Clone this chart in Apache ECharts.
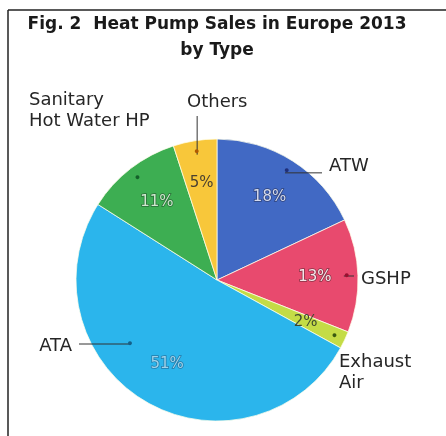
<!DOCTYPE html>
<html>
<head>
<meta charset="utf-8">
<script src="https://cdn.jsdelivr.net/npm/echarts@6/dist/echarts.min.js"></script>
<style>html,body{margin:0;padding:0;background:#fff}#c{width:446px;height:436px}</style>
</head>
<body>
<div id="c"></div>
<script>
// ---- data ----
var categories = ['ATW', 'GSHP', 'Exhaust Air', 'ATA', 'Sanitary Hot Water HP', 'Others'];
var labelTexts = ['ATW', 'GSHP', 'Exhaust\nAir', 'ATA', 'Sanitary\nHot Water HP', 'Others'];
var values = [18, 13, 2, 51, 11, 5];
var titleLines = ['Fig. 2  Heat Pump Sales in Europe 2013', 'by Type'];

// ---- styles ----
var colors = ['#4169c4', '#e84a6e', '#c4dc46', '#2bb5ec', '#3dae52', '#f8c73a'];
var dotColors = ['#1f2f7a', '#9a1030', '#3a5a10', '#14608a', '#14602a', '#b05a00'];
var pctColors = ['#d4dbee', '#f6e6ea', '#3e4a30', '#9fd3ea', '#cfe8cf', '#4a4030'];
var pctBorders = ['rgba(40,50,90,0.7)', 'rgba(90,40,50,0.7)', 'rgba(0,0,0,0)', 'rgba(30,80,120,0.6)', 'rgba(30,80,40,0.7)', 'rgba(0,0,0,0)'];

var CX = 217, CY = 280, R = 141;
var place = {
  'ATW': {x: 329, y: 166, align: 'left', line: 'h'},
  'GSHP': {x: 361, y: 279, align: 'left', line: 'h'},
  'Exhaust Air': {x: 339, y: 373, align: 'left', line: 'none'},
  'ATA': {x: 72, y: 346, align: 'right', line: 'ata'},
  'Sanitary Hot Water HP': {x: 29, y: 111, align: 'left', line: 'none'},
  'Others': {x: 187, y: 102, align: 'left', line: 'v'}
};
var ataDot = [130, 344];

var chart = echarts.init(document.getElementById('c'), null, {renderer: 'canvas'});

var mainData = categories.map(function (n, i) {
  return {name: n, value: values[i], itemStyle: {color: colors[i]}};
});
var pctData = categories.map(function (n, i) {
  return {name: n, value: values[i], label: {color: pctColors[i], textBorderColor: pctBorders[i]}};
});
var nameData = categories.map(function (n, i) {
  return {name: n, value: values[i], label: {formatter: labelTexts[i]}};
});
var dotData = categories.map(function (n, i) {
  return {name: n, value: values[i], label: {color: dotColors[i]}};
});

var transparentBase = {
  type: 'pie', center: [CX, CY], startAngle: 90, clockwise: true,
  silent: true, animation: false, z: 5,
  itemStyle: {color: 'rgba(0,0,0,0)', borderWidth: 0},
  emphasis: {disabled: true}
};

var titleFont = 'bold 17px "DejaVu Sans"';

chart.setOption({
  animation: false,
  graphic: [
    {type: 'line', shape: {x1: 8, y1: 10, x2: 446, y2: 10}, style: {stroke: '#222', lineWidth: 1.5}},
    {type: 'line', shape: {x1: 8, y1: 10, x2: 8, y2: 436}, style: {stroke: '#222', lineWidth: 1.5}},
    {type: 'text', x: 217, y: 25, style: {text: titleLines[0], font: titleFont, fill: '#1a1a1a', align: 'center', verticalAlign: 'middle'}},
    {type: 'text', x: 217, y: 51, style: {text: titleLines[1], font: titleFont, fill: '#1a1a1a', align: 'center', verticalAlign: 'middle'}}
  ],
  series: [
    {
      type: 'pie', name: 'main', center: [CX, CY], radius: R, z: 1,
      startAngle: 90, clockwise: true, silent: true,
      label: {show: false}, labelLine: {show: false},
      itemStyle: {borderColor: 'rgba(255,255,235,0.75)', borderWidth: 1},
      emphasis: {disabled: true},
      data: mainData
    },
    Object.assign({}, transparentBase, {
      name: 'pct', radius: [70, 120],
      label: {show: true, position: 'inside', formatter: '{c}%', fontFamily: 'DejaVu Sans', fontSize: 15, textBorderWidth: 1.5},
      labelLine: {show: false},
      data: pctData
    }),
    Object.assign({}, transparentBase, {
      name: 'names', radius: R * 0.9,
      label: {show: true, position: 'outside', overflow: 'none', fontFamily: 'DejaVu Sans', fontSize: 18, color: '#262626', lineHeight: 21},
      labelLine: {show: true, length: 10, length2: 10, lineStyle: {color: '#333', width: 1}},
      labelLayout: function (p) {
        var cfg = place[categories[p.dataIndex]];
        if (!cfg) return {};
        var pts = p.labelLinePoints;
        var start = pts && pts[0] ? pts[0] : [CX, CY];
        var line;
        if (cfg.line === 'h') line = [start, [cfg.x - 7, start[1]]];
        else if (cfg.line === 'v') line = [start, [start[0], cfg.y + 14]];
        else if (cfg.line === 'ata') line = [ataDot, [cfg.x + 7, ataDot[1]]];
        else line = [start, start];
        return {x: cfg.x, y: cfg.y, align: cfg.align, verticalAlign: 'middle', width: 200, labelLinePoints: line};
      },
      data: nameData
    }),
    Object.assign({}, transparentBase, {
      name: 'dots', radius: [R * 0.87, R * 0.93], z: 6,
      label: {show: true, position: 'inside', formatter: '\u25CF', fontSize: 9},
      labelLine: {show: false},
      labelLayout: function (p) {
        if (categories[p.dataIndex] === 'ATA') {
          return {x: ataDot[0], y: ataDot[1], align: 'center', verticalAlign: 'middle'};
        }
        return {};
      },
      data: dotData
    })
  ]
});
</script>
</body>
</html>
